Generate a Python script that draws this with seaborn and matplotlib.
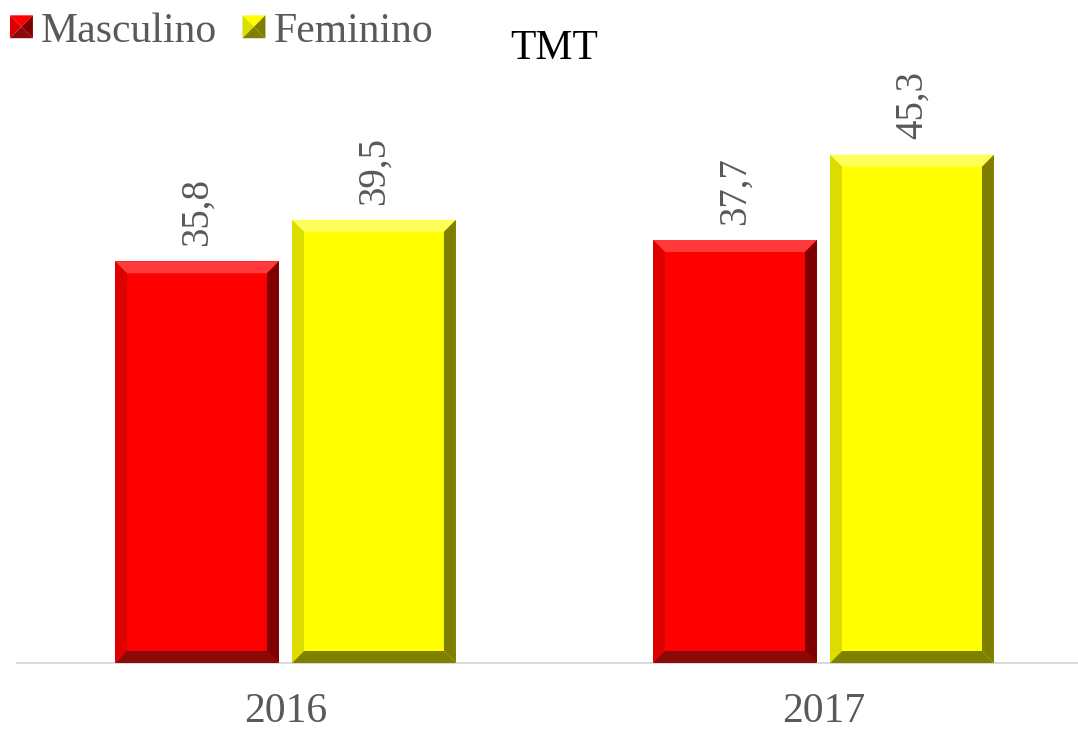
import seaborn as sns
import matplotlib.pyplot as plt
import pandas as pd
from matplotlib.patches import Patch, Polygon
from matplotlib.legend_handler import HandlerBase

# data
years = ['2016', '2017']
sexes = ['Masculino', 'Feminino']
masculino = [35.8, 37.7]
feminino = [39.5, 45.3]

colors = {'Masculino': '#FF0000', 'Feminino': '#FFFF00'}
# bevel shades: top, left, right, bottom
shades = {'Masculino': ['#FF3a3a', '#DC0000', '#7E0000', '#8A0A0A'],
          'Feminino': ['#FFFF5a', '#DCDC00', '#7E7E00', '#808000']}
TEXT_GREY = '#595959'

df = pd.DataFrame({'year': years * 2,
                   'sex': [sexes[0]] * 2 + [sexes[1]] * 2,
                   'value': masculino + feminino})

sns.set_theme(style='white')
plt.rcParams['font.family'] = ['Liberation Serif', 'DejaVu Serif']

fig = plt.figure(figsize=(10.78, 7.31), dpi=100)
ax = fig.add_axes([16.5 / 1078, 68 / 731, 1076 / 1078, 561 / 731])

sns.barplot(data=df, x='year', y='value', hue='sex', hue_order=sexes,
            palette=colors, width=0.658, gap=0.074, ax=ax, legend=False,
            saturation=1, linewidth=0, errorbar=None)

ax.set_xlim(-0.5, 1.5)
ax.set_ylim(0, 50)
ax.set_xlabel('')
ax.set_ylabel('')
ax.set_yticks([])
ax.tick_params(axis='x', length=0, pad=21, labelsize=30, labelcolor=TEXT_GREY)
for side in ['top', 'left', 'right']:
    ax.spines[side].set_visible(False)
ax.spines['bottom'].set_color('#D9D9D9')
ax.spines['bottom'].set_linewidth(1.5)


def bevel(bar, shade, b=12):
    # draw the bevelled edges of a bar, in pixels, on top of the bar
    x0, y0 = bar.get_x(), bar.get_y()
    (X0, Y0), (X1, Y1) = ax.transData.transform(
        [(x0, y0), (x0 + bar.get_width(), y0 + bar.get_height())])
    inv = ax.transData.inverted()
    BL, BR, TR, TL = (X0, Y0), (X1, Y0), (X1, Y1), (X0, Y1)
    bl, br, tr, tl = (X0 + b, Y0 + b), (X1 - b, Y0 + b), (X1 - b, Y1 - b), (X0 + b, Y1 - b)
    faces = [[TL, TR, tr, tl], [BL, TL, tl, bl], [BR, TR, tr, br], [BL, BR, br, bl]]
    for pts, c in zip(faces, shade):
        ax.add_patch(Polygon(inv.transform(pts), closed=True, facecolor=c,
                             edgecolor='none', zorder=3))


for cont, sex in zip(ax.containers, sexes):
    for bar in cont:
        bevel(bar, shades[sex])
    ax.bar_label(cont, labels=[f'{v:.1f}'.replace('.', ',') for v in cont.datavalues],
                 rotation=90, padding=11, fontsize=28, color=TEXT_GREY)


class PyramidHandler(HandlerBase):
    def create_artists(self, legend, orig_handle, xdescent, ydescent,
                       width, height, fontsize, trans):
        sh = shades[orig_handle.get_label()]
        s = min(width, height)
        x0, y0 = -xdescent, -ydescent + (height - s) / 2
        c = (x0 + s / 2, y0 + s / 2)
        tl, tr, br, bl = (x0, y0 + s), (x0 + s, y0 + s), (x0 + s, y0), (x0, y0)
        tri = [([tl, tr, c], colors[orig_handle.get_label()]), ([bl, tl, c], sh[1]),
               ([tr, br, c], sh[2]), ([bl, br, c], sh[3])]
        arts = []
        for pts, col in tri:
            p = Polygon(pts, closed=True, facecolor=col, edgecolor='none', transform=trans)
            arts.append(p)
        return arts


handles = [Patch(facecolor=colors[s], label=s) for s in sexes]
leg = fig.legend(handles=handles, loc='upper left', bbox_to_anchor=(10 / 1078, 1 - 12 / 731),
                 ncol=2, frameon=False, fontsize=30, borderpad=0, borderaxespad=0,
                 handlelength=0.55, handleheight=0.55, handletextpad=0.2,
                 columnspacing=0.6, handler_map={Patch: PyramidHandler()})
for t in leg.get_texts():
    t.set_color(TEXT_GREY)

fig.text(554 / 1078, 1 - 49 / 731, 'TMT', ha='center', va='center', fontsize=30, color='black')

fig.savefig('out.png', dpi=100)
